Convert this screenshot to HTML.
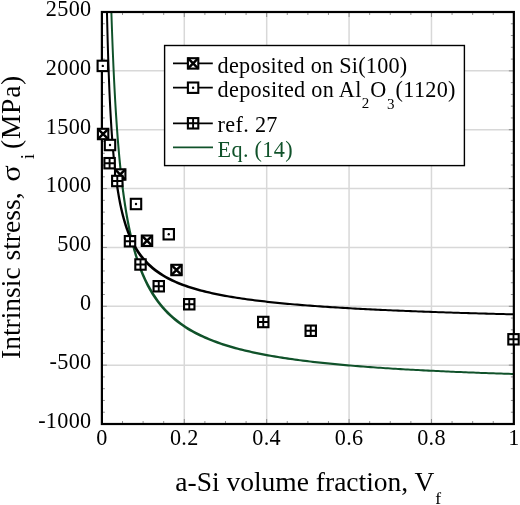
<!DOCTYPE html>
<html><head><meta charset="utf-8"><title>Intrinsic stress vs a-Si volume fraction</title>
<style>html,body{margin:0;padding:0;background:#fff}svg{display:block}text{font-family:"Liberation Serif","Times New Roman",serif;fill:#000}</style></head><body>
<svg width="520" height="505" viewBox="0 0 520 505">
<rect width="520" height="505" fill="#fff"/>
<path d="M184.29,12.0V424.0M266.68,12.0V424.0M349.07,12.0V424.0M431.46,12.0V424.0M101.9,70.86H513.85M101.9,129.71H513.85M101.9,188.57H513.85M101.9,247.43H513.85M101.9,306.29H513.85M101.9,365.14H513.85" stroke="#d8d8d8" stroke-width="1.5" fill="none"/>
<path d="M122.50,424.0v-3M122.50,12.0v3M143.10,424.0v-3M143.10,12.0v3M163.69,424.0v-3M163.69,12.0v3M184.29,424.0v-5M184.29,12.0v5M204.89,424.0v-3M204.89,12.0v3M225.49,424.0v-3M225.49,12.0v3M246.08,424.0v-3M246.08,12.0v3M266.68,424.0v-5M266.68,12.0v5M287.28,424.0v-3M287.28,12.0v3M307.88,424.0v-3M307.88,12.0v3M328.47,424.0v-3M328.47,12.0v3M349.07,424.0v-5M349.07,12.0v5M369.67,424.0v-3M369.67,12.0v3M390.27,424.0v-3M390.27,12.0v3M410.86,424.0v-3M410.86,12.0v3M431.46,424.0v-5M431.46,12.0v5M452.06,424.0v-3M452.06,12.0v3M472.66,424.0v-3M472.66,12.0v3M493.25,424.0v-3M493.25,12.0v3M101.9,412.23h3M513.85,412.23h-3M101.9,400.46h3M513.85,400.46h-3M101.9,388.69h3M513.85,388.69h-3M101.9,376.91h3M513.85,376.91h-3M101.9,365.14h5M513.85,365.14h-5M101.9,353.37h3M513.85,353.37h-3M101.9,341.60h3M513.85,341.60h-3M101.9,329.83h3M513.85,329.83h-3M101.9,318.06h3M513.85,318.06h-3M101.9,306.29h5M513.85,306.29h-5M101.9,294.51h3M513.85,294.51h-3M101.9,282.74h3M513.85,282.74h-3M101.9,270.97h3M513.85,270.97h-3M101.9,259.20h3M513.85,259.20h-3M101.9,247.43h5M513.85,247.43h-5M101.9,235.66h3M513.85,235.66h-3M101.9,223.89h3M513.85,223.89h-3M101.9,212.11h3M513.85,212.11h-3M101.9,200.34h3M513.85,200.34h-3M101.9,188.57h5M513.85,188.57h-5M101.9,176.80h3M513.85,176.80h-3M101.9,165.03h3M513.85,165.03h-3M101.9,153.26h3M513.85,153.26h-3M101.9,141.49h3M513.85,141.49h-3M101.9,129.71h5M513.85,129.71h-5M101.9,117.94h3M513.85,117.94h-3M101.9,106.17h3M513.85,106.17h-3M101.9,94.40h3M513.85,94.40h-3M101.9,82.63h3M513.85,82.63h-3M101.9,70.86h5M513.85,70.86h-5M101.9,59.09h3M513.85,59.09h-3M101.9,47.31h3M513.85,47.31h-3M101.9,35.54h3M513.85,35.54h-3M101.9,23.77h3M513.85,23.77h-3" stroke="#777" stroke-width="0.8" fill="none"/>
<clipPath id="c"><rect x="101.9" y="12" width="411.95" height="412"/></clipPath>
<g clip-path="url(#c)" fill="none" stroke-linejoin="round"><polygon points="108.67,-161.34 108.92,-144.08 109.17,-127.97 109.42,-112.92 109.67,-98.80 109.92,-85.54 110.17,-73.05 110.41,-61.27 110.66,-50.13 110.91,-39.59 111.16,-29.59 111.41,-20.09 111.66,-11.06 111.91,-2.46 112.16,5.75 112.40,13.58 112.65,21.07 112.90,28.23 113.15,35.10 113.40,41.68 113.65,48.00 113.90,54.07 114.15,59.91 114.39,65.53 114.64,70.94 114.89,76.15 115.14,81.18 115.39,86.04 115.64,90.73 115.89,95.27 116.13,99.65 116.38,103.90 116.63,108.01 116.88,111.99 117.13,115.85 117.38,119.60 117.63,123.23 117.88,126.76 118.12,130.19 118.37,133.52 118.62,136.76 118.87,139.91 119.12,142.97 119.37,145.95 119.62,148.86 119.87,151.69 120.11,154.45 120.36,157.14 120.61,159.76 120.86,162.32 121.11,164.82 121.36,167.26 121.61,169.64 121.85,171.97 122.10,174.24 122.35,176.46 122.60,178.64 122.85,180.76 123.10,182.84 123.35,184.87 123.60,186.86 123.84,188.81 124.09,190.72 124.34,192.59 124.59,194.42 124.84,196.22 125.09,197.98 125.34,199.70 125.59,201.39 125.83,203.05 126.08,204.68 126.33,206.28 126.58,207.84 126.83,209.38 127.08,210.89 127.33,212.38 127.57,213.83 127.82,215.26 128.07,216.67 128.32,218.05 128.57,219.41 128.82,220.74 129.07,222.05 129.32,223.34 129.56,224.61 129.81,225.86 130.06,227.09 130.31,228.29 130.56,229.48 130.81,230.65 131.06,231.80 131.31,232.94 131.55,234.05 131.80,235.15 132.05,236.23 132.30,237.30 132.55,238.35 132.80,239.38 133.05,240.40 133.29,241.40 133.54,242.39 133.79,243.37 134.04,244.33 134.29,245.28 134.54,246.21 134.79,247.13 135.04,248.04 135.28,248.94 135.53,249.82 135.78,250.70 136.03,251.56 136.28,252.41 136.53,253.24 136.78,254.07 137.03,254.89 137.27,255.69 137.52,256.49 137.77,257.27 138.02,258.05 138.27,258.81 138.52,259.57 138.77,260.32 139.01,261.05 139.26,261.78 139.51,262.50 139.76,263.21 140.01,263.91 140.26,264.61 140.51,265.29 140.76,265.97 141.00,266.64 141.25,267.30 141.50,267.96 141.75,268.60 142.00,269.24 142.25,269.88 142.50,270.50 142.75,271.12 142.99,271.73 143.24,272.33 143.49,272.93 143.74,273.52 146.26,279.16 148.77,284.24 151.29,288.84 153.80,293.03 156.32,296.87 158.83,300.39 161.35,303.64 163.87,306.64 166.38,309.43 168.90,312.02 171.41,314.44 173.93,316.71 176.44,318.83 178.96,320.82 181.47,322.70 183.99,324.47 186.51,326.15 189.02,327.73 191.54,329.24 194.05,330.66 196.57,332.02 199.08,333.31 201.60,334.54 204.12,335.71 206.63,336.84 209.15,337.91 211.66,338.94 214.18,339.92 216.69,340.86 219.21,341.77 221.72,342.64 224.24,343.48 226.76,344.28 229.27,345.06 231.79,345.81 234.30,346.53 236.82,347.23 239.33,347.90 241.85,348.55 244.37,349.18 246.88,349.78 249.40,350.37 251.91,350.94 254.43,351.49 256.94,352.03 259.46,352.55 261.97,353.05 264.49,353.54 267.01,354.01 269.52,354.48 272.04,354.92 274.55,355.36 277.07,355.78 279.58,356.20 282.10,356.60 284.62,356.99 287.13,357.37 289.65,357.74 292.16,358.11 294.68,358.46 297.19,358.81 299.71,359.14 302.22,359.47 304.74,359.79 307.26,360.10 309.77,360.41 312.29,360.71 314.80,361.00 317.32,361.29 319.83,361.57 322.35,361.84 324.87,362.11 327.38,362.37 329.90,362.62 332.41,362.87 334.93,363.12 337.44,363.36 339.96,363.60 342.47,363.83 344.99,364.05 347.51,364.27 350.02,364.49 352.54,364.70 355.05,364.91 357.57,365.12 360.08,365.32 362.60,365.52 365.12,365.71 367.63,365.90 370.15,366.09 372.66,366.27 375.18,366.45 377.69,366.63 380.21,366.80 382.72,366.97 385.24,367.14 387.76,367.31 390.27,367.47 392.79,367.63 395.30,367.78 397.82,367.94 400.33,368.09 402.85,368.24 405.37,368.38 407.88,368.53 410.40,368.67 412.91,368.81 415.43,368.95 417.94,369.08 420.46,369.22 422.98,369.35 425.49,369.48 428.01,369.60 430.52,369.73 433.04,369.85 435.55,369.97 438.07,370.09 440.58,370.21 443.10,370.33 445.62,370.44 448.13,370.56 450.65,370.67 453.16,370.78 455.68,370.89 458.19,370.99 460.71,371.10 463.23,371.20 465.74,371.30 468.26,371.40 470.77,371.50 473.29,371.60 475.80,371.70 478.32,371.79 480.83,371.89 483.35,371.98 485.87,372.07 488.38,372.16 490.90,372.25 493.41,372.34 495.93,372.43 498.44,372.51 500.96,372.60 503.48,372.68 505.99,372.77 508.51,372.85 511.02,372.93 513.54,373.01 516.05,373.09 518.57,373.17 516.67,375.07 514.15,374.99 511.64,374.91 509.12,374.83 506.61,374.75 504.09,374.67 501.58,374.58 499.06,374.50 496.54,374.41 494.03,374.33 491.51,374.24 489.00,374.15 486.48,374.06 483.97,373.97 481.45,373.88 478.93,373.79 476.42,373.69 473.90,373.60 471.39,373.50 468.87,373.40 466.36,373.30 463.84,373.20 461.33,373.10 458.81,373.00 456.29,372.89 453.78,372.79 451.26,372.68 448.75,372.57 446.23,372.46 443.72,372.34 441.20,372.23 438.68,372.11 436.17,371.99 433.65,371.87 431.14,371.75 428.62,371.63 426.11,371.50 423.59,371.38 421.08,371.25 418.56,371.12 416.04,370.98 413.53,370.85 411.01,370.71 408.50,370.57 405.98,370.43 403.47,370.28 400.95,370.14 398.43,369.99 395.92,369.84 393.40,369.68 390.89,369.53 388.37,369.37 385.86,369.21 383.34,369.04 380.82,368.87 378.31,368.70 375.79,368.53 373.28,368.35 370.76,368.17 368.25,367.99 365.73,367.80 363.22,367.61 360.70,367.42 358.18,367.22 355.67,367.02 353.15,366.81 350.64,366.60 348.12,366.39 345.61,366.17 343.09,365.95 340.57,365.73 338.06,365.50 335.54,365.26 333.03,365.02 330.51,364.77 328.00,364.52 325.48,364.27 322.97,364.01 320.45,363.74 317.93,363.47 315.42,363.19 312.90,362.90 310.39,362.61 307.87,362.31 305.36,362.00 302.84,361.69 300.32,361.37 297.81,361.04 295.29,360.71 292.78,360.36 290.26,360.01 287.75,359.64 285.23,359.27 282.72,358.89 280.20,358.50 277.68,358.10 275.17,357.68 272.65,357.26 270.14,356.82 267.62,356.38 265.11,355.91 262.59,355.44 260.07,354.95 257.56,354.45 255.04,353.93 252.53,353.39 250.01,352.84 247.50,352.27 244.98,351.68 242.47,351.08 239.95,350.45 237.43,349.80 234.92,349.13 232.40,348.43 229.89,347.71 227.37,346.96 224.86,346.18 222.34,345.38 219.82,344.54 217.31,343.67 214.79,342.76 212.28,341.82 209.76,340.84 207.25,339.81 204.73,338.74 202.22,337.61 199.70,336.44 197.18,335.21 194.67,333.92 192.15,332.56 189.64,331.14 187.12,329.63 184.61,328.05 182.09,326.37 179.57,324.60 177.06,322.72 174.54,320.73 172.03,318.61 169.51,316.34 167.00,313.92 164.48,311.33 161.97,308.54 159.45,305.54 156.93,302.29 154.42,298.77 151.90,294.93 149.39,290.74 146.87,286.14 144.36,281.06 141.84,275.42 141.59,274.83 141.34,274.23 141.09,273.63 140.85,273.02 140.60,272.40 140.35,271.78 140.10,271.14 139.85,270.50 139.60,269.86 139.35,269.20 139.10,268.54 138.86,267.87 138.61,267.19 138.36,266.51 138.11,265.81 137.86,265.11 137.61,264.40 137.36,263.68 137.11,262.95 136.87,262.22 136.62,261.47 136.37,260.71 136.12,259.95 135.87,259.17 135.62,258.39 135.37,257.59 135.13,256.79 134.88,255.97 134.63,255.14 134.38,254.31 134.13,253.46 133.88,252.60 133.63,251.72 133.38,250.84 133.14,249.94 132.89,249.03 132.64,248.11 132.39,247.18 132.14,246.23 131.89,245.27 131.64,244.29 131.39,243.30 131.15,242.30 130.90,241.28 130.65,240.25 130.40,239.20 130.15,238.13 129.90,237.05 129.65,235.95 129.41,234.84 129.16,233.70 128.91,232.55 128.66,231.38 128.41,230.19 128.16,228.99 127.91,227.76 127.66,226.51 127.42,225.24 127.17,223.95 126.92,222.64 126.67,221.31 126.42,219.95 126.17,218.57 125.92,217.16 125.67,215.73 125.43,214.28 125.18,212.79 124.93,211.28 124.68,209.74 124.43,208.18 124.18,206.58 123.93,204.95 123.69,203.29 123.44,201.60 123.19,199.88 122.94,198.12 122.69,196.32 122.44,194.49 122.19,192.62 121.94,190.71 121.70,188.76 121.45,186.77 121.20,184.74 120.95,182.66 120.70,180.54 120.45,178.36 120.20,176.14 119.95,173.87 119.71,171.54 119.46,169.16 119.21,166.72 118.96,164.22 118.71,161.66 118.46,159.04 118.21,156.35 117.97,153.59 117.72,150.76 117.47,147.85 117.22,144.87 116.97,141.81 116.72,138.66 116.47,135.42 116.22,132.09 115.98,128.66 115.73,125.13 115.48,121.50 115.23,117.75 114.98,113.89 114.73,109.91 114.48,105.80 114.23,101.55 113.99,97.17 113.74,92.63 113.49,87.94 113.24,83.08 112.99,78.05 112.74,72.84 112.49,67.43 112.25,61.81 112.00,55.97 111.75,49.90 111.50,43.58 111.25,37.00 111.00,30.13 110.75,22.97 110.50,15.48 110.26,7.65 110.01,-0.56 109.76,-9.16 109.51,-18.19 109.26,-27.69 109.01,-37.69 108.76,-48.23 108.51,-59.37 108.27,-71.15 108.02,-83.64 107.77,-96.90 107.52,-111.02 107.27,-126.07 107.02,-142.18 106.77,-159.44" fill="#10522a" stroke="none"/>
<polygon points="105.72,-148.62 105.97,-121.56 106.22,-97.82 106.47,-76.82 106.71,-58.08 106.96,-41.26 107.21,-26.05 107.46,-12.24 107.71,0.37 107.96,11.94 108.21,22.60 108.46,32.44 108.70,41.57 108.95,50.06 109.20,57.98 109.45,65.39 109.70,72.34 109.95,78.86 110.20,85.01 110.44,90.81 110.69,96.29 110.94,101.48 111.19,106.41 111.44,111.08 111.69,115.53 111.94,119.77 112.19,123.81 112.43,127.67 112.68,131.36 112.93,134.89 113.18,138.28 113.43,141.53 113.68,144.64 113.93,147.64 114.18,150.52 114.42,153.30 114.67,155.97 114.92,158.54 115.17,161.03 115.42,163.43 115.67,165.75 115.92,167.99 116.16,170.16 116.41,172.26 116.66,174.29 116.91,176.27 117.16,178.18 117.41,180.03 117.66,181.83 117.91,183.58 118.15,185.28 118.40,186.93 118.65,188.54 118.90,190.10 119.15,191.62 119.40,193.10 119.65,194.55 119.90,195.95 120.14,197.32 120.39,198.66 120.64,199.96 120.89,201.24 121.14,202.48 121.39,203.69 121.64,204.88 121.88,206.04 122.13,207.17 122.38,208.28 122.63,209.36 122.88,210.42 123.13,211.46 123.38,212.47 123.63,213.47 123.87,214.44 124.12,215.39 124.37,216.33 124.62,217.24 124.87,218.14 125.12,219.02 125.37,219.88 125.62,220.73 125.86,221.56 126.11,222.37 126.36,223.17 126.61,223.96 126.86,224.73 127.11,225.49 127.36,226.23 127.60,226.96 127.85,227.68 128.10,228.39 128.35,229.08 128.60,229.76 128.85,230.43 129.10,231.09 129.35,231.74 129.59,232.38 129.84,233.01 130.09,233.62 130.34,234.23 130.59,234.83 130.84,235.42 131.09,236.00 131.34,236.57 131.58,237.13 131.83,237.69 132.08,238.24 132.33,238.77 132.58,239.30 132.83,239.83 133.08,240.34 133.32,240.85 133.57,241.35 133.82,241.84 134.07,242.33 134.32,242.81 134.57,243.28 134.82,243.75 135.07,244.21 135.31,244.67 135.56,245.11 135.81,245.56 136.06,245.99 136.31,246.42 136.56,246.85 136.81,247.27 137.06,247.69 137.30,248.09 137.55,248.50 137.80,248.90 138.05,249.29 138.30,249.68 138.55,250.07 138.80,250.45 139.04,250.82 139.29,251.20 139.54,251.56 139.79,251.93 140.04,252.28 140.29,252.64 140.54,252.99 140.79,253.33 141.03,253.68 141.28,254.02 141.53,254.35 141.78,254.68 142.03,255.01 142.28,255.33 142.53,255.65 142.78,255.97 143.02,256.28 143.27,256.59 143.52,256.90 143.77,257.20 146.29,260.10 148.80,262.72 151.32,265.10 153.83,267.28 156.35,269.28 158.86,271.12 161.38,272.83 163.90,274.41 166.41,275.88 168.93,277.26 171.44,278.55 173.96,279.76 176.47,280.89 178.99,281.97 181.50,282.98 184.02,283.94 186.54,284.85 189.05,285.71 191.57,286.53 194.08,287.32 196.60,288.06 199.11,288.78 201.63,289.46 204.15,290.11 206.66,290.74 209.18,291.34 211.69,291.91 214.21,292.47 216.72,293.00 219.24,293.51 221.75,294.01 224.27,294.49 226.79,294.95 229.30,295.39 231.82,295.82 234.33,296.24 236.85,296.64 239.36,297.04 241.88,297.41 244.40,297.78 246.91,298.14 249.43,298.49 251.94,298.82 254.46,299.15 256.97,299.47 259.49,299.78 262.00,300.08 264.52,300.37 267.04,300.66 269.55,300.93 272.07,301.21 274.58,301.47 277.10,301.73 279.61,301.98 282.13,302.23 284.65,302.47 287.16,302.70 289.68,302.93 292.19,303.16 294.71,303.38 297.22,303.59 299.74,303.80 302.25,304.01 304.77,304.21 307.29,304.41 309.80,304.60 312.32,304.79 314.83,304.98 317.35,305.16 319.86,305.34 322.38,305.51 324.90,305.69 327.41,305.86 329.93,306.02 332.44,306.18 334.96,306.34 337.47,306.50 339.99,306.66 342.50,306.81 345.02,306.96 347.54,307.10 350.05,307.25 352.57,307.39 355.08,307.53 357.60,307.67 360.11,307.80 362.63,307.93 365.15,308.06 367.66,308.19 370.18,308.32 372.69,308.44 375.21,308.57 377.72,308.69 380.24,308.81 382.75,308.92 385.27,309.04 387.79,309.15 390.30,309.27 392.82,309.38 395.33,309.49 397.85,309.59 400.36,309.70 402.88,309.81 405.40,309.91 407.91,310.01 410.43,310.11 412.94,310.21 415.46,310.31 417.97,310.41 420.49,310.50 423.01,310.60 425.52,310.69 428.04,310.78 430.55,310.87 433.07,310.96 435.58,311.05 438.10,311.14 440.61,311.22 443.13,311.31 445.65,311.39 448.16,311.48 450.68,311.56 453.19,311.64 455.71,311.72 458.22,311.80 460.74,311.88 463.26,311.96 465.77,312.04 468.29,312.11 470.80,312.19 473.32,312.26 475.83,312.33 478.35,312.41 480.86,312.48 483.38,312.55 485.90,312.62 488.41,312.69 490.93,312.76 493.44,312.83 495.96,312.90 498.47,312.96 500.99,313.03 503.51,313.10 506.02,313.16 508.54,313.23 511.05,313.29 513.57,313.35 516.08,313.41 518.60,313.48 516.64,315.44 514.12,315.37 511.61,315.31 509.09,315.25 506.58,315.19 504.06,315.12 501.55,315.06 499.03,314.99 496.51,314.92 494.00,314.86 491.48,314.79 488.97,314.72 486.45,314.65 483.94,314.58 481.42,314.51 478.90,314.44 476.39,314.37 473.87,314.29 471.36,314.22 468.84,314.15 466.33,314.07 463.81,314.00 461.30,313.92 458.78,313.84 456.26,313.76 453.75,313.68 451.23,313.60 448.72,313.52 446.20,313.44 443.69,313.35 441.17,313.27 438.65,313.18 436.14,313.10 433.62,313.01 431.11,312.92 428.59,312.83 426.08,312.74 423.56,312.65 421.05,312.56 418.53,312.46 416.01,312.37 413.50,312.27 410.98,312.17 408.47,312.07 405.95,311.97 403.44,311.87 400.92,311.77 398.40,311.66 395.89,311.55 393.37,311.45 390.86,311.34 388.34,311.23 385.83,311.11 383.31,311.00 380.79,310.88 378.28,310.77 375.76,310.65 373.25,310.53 370.73,310.40 368.22,310.28 365.70,310.15 363.19,310.02 360.67,309.89 358.15,309.76 355.64,309.63 353.12,309.49 350.61,309.35 348.09,309.21 345.58,309.06 343.06,308.92 340.54,308.77 338.03,308.62 335.51,308.46 333.00,308.30 330.48,308.14 327.97,307.98 325.45,307.82 322.94,307.65 320.42,307.47 317.90,307.30 315.39,307.12 312.87,306.94 310.36,306.75 307.84,306.56 305.33,306.37 302.81,306.17 300.29,305.97 297.78,305.76 295.26,305.55 292.75,305.34 290.23,305.12 287.72,304.89 285.20,304.66 282.69,304.43 280.17,304.19 277.65,303.94 275.14,303.69 272.62,303.43 270.11,303.17 267.59,302.89 265.08,302.62 262.56,302.33 260.04,302.04 257.53,301.74 255.01,301.43 252.50,301.11 249.98,300.78 247.47,300.45 244.95,300.10 242.44,299.74 239.92,299.37 237.40,299.00 234.89,298.60 232.37,298.20 229.86,297.78 227.34,297.35 224.83,296.91 222.31,296.45 219.79,295.97 217.28,295.47 214.76,294.96 212.25,294.43 209.73,293.87 207.22,293.30 204.70,292.70 202.19,292.07 199.67,291.42 197.15,290.74 194.64,290.02 192.12,289.28 189.61,288.49 187.09,287.67 184.58,286.81 182.06,285.90 179.54,284.94 177.03,283.93 174.51,282.85 172.00,281.72 169.48,280.51 166.97,279.22 164.45,277.84 161.94,276.37 159.42,274.79 156.90,273.08 154.39,271.24 151.87,269.24 149.36,267.06 146.84,264.68 144.33,262.06 141.81,259.16 141.56,258.86 141.31,258.55 141.06,258.24 140.82,257.93 140.57,257.61 140.32,257.29 140.07,256.97 139.82,256.64 139.57,256.31 139.32,255.98 139.07,255.64 138.83,255.29 138.58,254.95 138.33,254.60 138.08,254.24 137.83,253.89 137.58,253.52 137.33,253.16 137.08,252.78 136.84,252.41 136.59,252.03 136.34,251.64 136.09,251.25 135.84,250.86 135.59,250.46 135.34,250.05 135.10,249.65 134.85,249.23 134.60,248.81 134.35,248.38 134.10,247.95 133.85,247.52 133.60,247.07 133.35,246.63 133.11,246.17 132.86,245.71 132.61,245.24 132.36,244.77 132.11,244.29 131.86,243.80 131.61,243.31 131.36,242.81 131.12,242.30 130.87,241.79 130.62,241.26 130.37,240.73 130.12,240.20 129.87,239.65 129.62,239.09 129.38,238.53 129.13,237.96 128.88,237.38 128.63,236.79 128.38,236.19 128.13,235.58 127.88,234.97 127.63,234.34 127.39,233.70 127.14,233.05 126.89,232.39 126.64,231.72 126.39,231.04 126.14,230.35 125.89,229.64 125.64,228.92 125.40,228.19 125.15,227.45 124.90,226.69 124.65,225.92 124.40,225.13 124.15,224.33 123.90,223.52 123.66,222.69 123.41,221.84 123.16,220.98 122.91,220.10 122.66,219.20 122.41,218.29 122.16,217.35 121.91,216.40 121.67,215.43 121.42,214.43 121.17,213.42 120.92,212.38 120.67,211.32 120.42,210.24 120.17,209.13 119.92,208.00 119.68,206.84 119.43,205.65 119.18,204.44 118.93,203.20 118.68,201.92 118.43,200.62 118.18,199.28 117.94,197.91 117.69,196.51 117.44,195.06 117.19,193.58 116.94,192.06 116.69,190.50 116.44,188.89 116.19,187.24 115.95,185.54 115.70,183.79 115.45,181.99 115.20,180.14 114.95,178.23 114.70,176.25 114.45,174.22 114.20,172.12 113.96,169.95 113.71,167.71 113.46,165.39 113.21,162.99 112.96,160.50 112.71,157.93 112.46,155.26 112.22,152.48 111.97,149.60 111.72,146.60 111.47,143.49 111.22,140.24 110.97,136.85 110.72,133.32 110.47,129.63 110.23,125.77 109.98,121.73 109.73,117.49 109.48,113.04 109.23,108.37 108.98,103.44 108.73,98.25 108.48,92.77 108.24,86.97 107.99,80.82 107.74,74.30 107.49,67.35 107.24,59.94 106.99,52.02 106.74,43.53 106.50,34.40 106.25,24.56 106.00,13.90 105.75,2.33 105.50,-10.28 105.25,-24.09 105.00,-39.30 104.75,-56.12 104.51,-74.86 104.26,-95.86 104.01,-119.60 103.76,-146.66" fill="#000" stroke="none"/></g>
<rect x="101.9" y="12.0" width="411.95000000000005" height="412.0" fill="none" stroke="#000" stroke-width="2.2"/>
<rect x="97.90" y="128.80" width="10.4" height="10.4" fill="#fff" stroke="#000" stroke-width="2.1"/><path d="M97.90,128.80L108.30,139.20M97.90,139.20L108.30,128.80" stroke="#000" stroke-width="2.5" fill="none"/>
<rect x="115.00" y="169.30" width="10.4" height="10.4" fill="#fff" stroke="#000" stroke-width="2.1"/><path d="M115.00,169.30L125.40,179.70M115.00,179.70L125.40,169.30" stroke="#000" stroke-width="2.5" fill="none"/>
<rect x="141.80" y="235.55" width="10.4" height="10.4" fill="#fff" stroke="#000" stroke-width="2.1"/><path d="M141.80,235.55L152.20,245.95M141.80,245.95L152.20,235.55" stroke="#000" stroke-width="2.5" fill="none"/>
<rect x="171.30" y="264.80" width="10.4" height="10.4" fill="#fff" stroke="#000" stroke-width="2.1"/><path d="M171.30,264.80L181.70,275.20M171.30,275.20L181.70,264.80" stroke="#000" stroke-width="2.5" fill="none"/>
<rect x="97.60" y="60.70" width="10.4" height="10.4" fill="#fff" stroke="#000" stroke-width="2.1"/><circle cx="102.80" cy="65.90" r="1.2" fill="#000"/>
<rect x="104.80" y="139.80" width="10.4" height="10.4" fill="#fff" stroke="#000" stroke-width="2.1"/><circle cx="110.00" cy="145.00" r="1.2" fill="#000"/>
<rect x="130.80" y="198.80" width="10.4" height="10.4" fill="#fff" stroke="#000" stroke-width="2.1"/><circle cx="136.00" cy="204.00" r="1.2" fill="#000"/>
<rect x="163.55" y="229.05" width="10.4" height="10.4" fill="#fff" stroke="#000" stroke-width="2.1"/><circle cx="168.75" cy="234.25" r="1.2" fill="#000"/>
<rect x="104.40" y="158.00" width="10.4" height="10.4" fill="#fff" stroke="#000" stroke-width="2.1"/><path d="M104.40,163.20H114.80M109.60,158.00V168.40" stroke="#000" stroke-width="1.9" fill="none"/>
<rect x="112.10" y="175.80" width="10.4" height="10.4" fill="#fff" stroke="#000" stroke-width="2.1"/><path d="M112.10,181.00H122.50M117.30,175.80V186.20" stroke="#000" stroke-width="1.9" fill="none"/>
<rect x="124.80" y="236.05" width="10.4" height="10.4" fill="#fff" stroke="#000" stroke-width="2.1"/><path d="M124.80,241.25H135.20M130.00,236.05V246.45" stroke="#000" stroke-width="1.9" fill="none"/>
<rect x="135.30" y="259.30" width="10.4" height="10.4" fill="#fff" stroke="#000" stroke-width="2.1"/><path d="M135.30,264.50H145.70M140.50,259.30V269.70" stroke="#000" stroke-width="1.9" fill="none"/>
<rect x="153.55" y="281.05" width="10.4" height="10.4" fill="#fff" stroke="#000" stroke-width="2.1"/><path d="M153.55,286.25H163.95M158.75,281.05V291.45" stroke="#000" stroke-width="1.9" fill="none"/>
<rect x="184.05" y="299.05" width="10.4" height="10.4" fill="#fff" stroke="#000" stroke-width="2.1"/><path d="M184.05,304.25H194.45M189.25,299.05V309.45" stroke="#000" stroke-width="1.9" fill="none"/>
<rect x="258.05" y="316.80" width="10.4" height="10.4" fill="#fff" stroke="#000" stroke-width="2.1"/><path d="M258.05,322.00H268.45M263.25,316.80V327.20" stroke="#000" stroke-width="1.9" fill="none"/>
<rect x="305.55" y="325.55" width="10.4" height="10.4" fill="#fff" stroke="#000" stroke-width="2.1"/><path d="M305.55,330.75H315.95M310.75,325.55V335.95" stroke="#000" stroke-width="1.9" fill="none"/>
<rect x="508.30" y="334.10" width="10.4" height="10.4" fill="#fff" stroke="#000" stroke-width="2.1"/><path d="M508.30,339.30H518.70M513.50,334.10V344.50" stroke="#000" stroke-width="1.9" fill="none"/>
<rect x="164.6" y="45.5" width="299.8" height="120.1" fill="#fff" stroke="#000" stroke-width="1.4"/>
<path d="M173,63.4H212.8" stroke="#000" stroke-width="1.7"/><rect x="187.90" y="58.20" width="10.4" height="10.4" fill="#fff" stroke="#000" stroke-width="2.1"/><path d="M187.90,58.20L198.30,68.60M187.90,68.60L198.30,58.20" stroke="#000" stroke-width="2.5" fill="none"/>
<path d="M173,87.7H212.8" stroke="#000" stroke-width="1.7"/><rect x="187.90" y="82.50" width="10.4" height="10.4" fill="#fff" stroke="#000" stroke-width="2.1"/><circle cx="193.10" cy="87.70" r="1.2" fill="#000"/>
<path d="M173,123.3H212.8" stroke="#000" stroke-width="1.7"/><rect x="187.90" y="118.10" width="10.4" height="10.4" fill="#fff" stroke="#000" stroke-width="2.1"/><path d="M187.90,123.30H198.30M193.10,118.10V128.50" stroke="#000" stroke-width="1.9" fill="none"/>
<path d="M173,147.4H213" stroke="#10522a" stroke-width="1.8"/>
<text x="217.6" y="72.8" font-size="22.2" letter-spacing="0.25">deposited on Si(100)</text>
<text x="217.6" y="96.7" font-size="22.2" letter-spacing="0.32">deposited on Al<tspan font-size="15" dy="11.6">2</tspan><tspan dy="-11.6" dx="0.7">O</tspan><tspan font-size="15" dy="11.8" dx="0.5">3</tspan><tspan dy="-11.8" dx="0.7">(1120)</tspan></text>
<text x="217.6" y="132.2" font-size="22.2" letter-spacing="0.32">ref. 27</text>
<text x="217.6" y="156.8" font-size="22.2" letter-spacing="0.32" style="fill:#10522a">Eq. (14)</text>
<text x="91.5" y="15.8" font-size="22.2" letter-spacing="0.32" text-anchor="end">2500</text>
<text x="91.5" y="74.6" font-size="22.2" letter-spacing="0.32" text-anchor="end">2000</text>
<text x="91.5" y="133.5" font-size="22.2" letter-spacing="0.32" text-anchor="end">1500</text>
<text x="91.5" y="192.3" font-size="22.2" letter-spacing="0.32" text-anchor="end">1000</text>
<text x="91.5" y="251.2" font-size="22.2" letter-spacing="0.32" text-anchor="end">500</text>
<text x="91.5" y="310.0" font-size="22.2" letter-spacing="0.32" text-anchor="end">0</text>
<text x="91.5" y="368.9" font-size="22.2" letter-spacing="0.32" text-anchor="end">-500</text>
<text x="91.5" y="427.8" font-size="22.2" letter-spacing="0.32" text-anchor="end">-1000</text>
<text x="101.9" y="445" font-size="22.2" letter-spacing="0.32" text-anchor="middle">0</text>
<text x="184.3" y="445" font-size="22.2" letter-spacing="0.32" text-anchor="middle">0.2</text>
<text x="266.7" y="445" font-size="22.2" letter-spacing="0.32" text-anchor="middle">0.4</text>
<text x="349.1" y="445" font-size="22.2" letter-spacing="0.32" text-anchor="middle">0.6</text>
<text x="431.5" y="445" font-size="22.2" letter-spacing="0.32" text-anchor="middle">0.8</text>
<text x="513.9" y="445" font-size="22.2" letter-spacing="0.32" text-anchor="middle">1</text>
<text x="175.3" y="491.2" font-size="27.5">a-Si volume fraction, V<tspan font-size="17.5" dy="13.2" dx="0.8">f</tspan></text>
<text transform="translate(20.2,359) rotate(-90)" font-size="27.5">Intrinsic stress,</text>
<text transform="translate(20.2,181.8) rotate(-90) scale(1.12,1)" font-size="27.5">σ</text>
<text transform="translate(34,159.2) rotate(-90)" font-size="19">i</text>
<text transform="translate(20.2,149) rotate(-90)" font-size="27.5" letter-spacing="0.75">(MPa)</text>
</svg></body></html>
